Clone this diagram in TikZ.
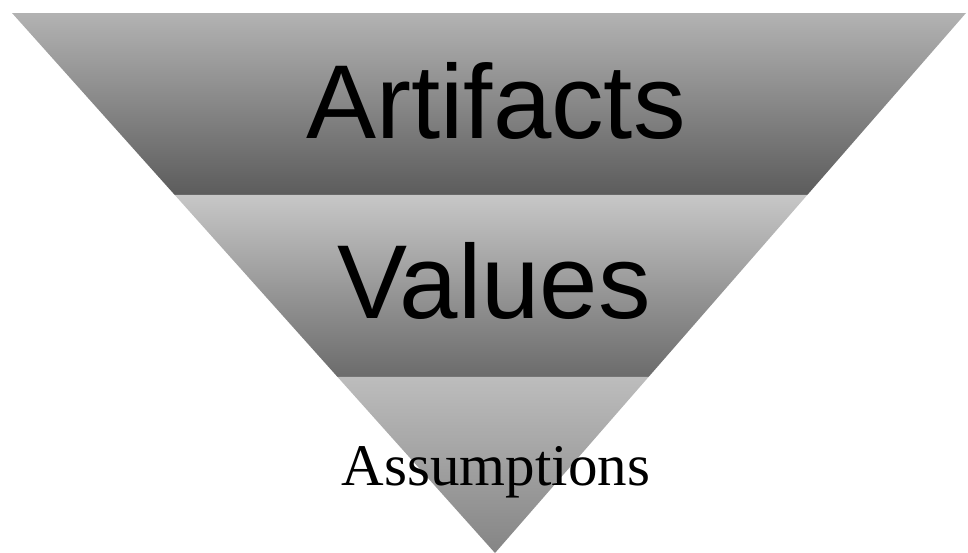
\documentclass[tikz,border=0pt]{standalone}
\usepackage{fontspec}
\newfontfamily\armfont{Liberation Sans}
\newfontfamily\capfont{Liberation Serif}
\usetikzlibrary{calc}

\begin{document}
\begin{tikzpicture}[x=1pt, y=-1pt,
    bigword/.style={anchor=base, inner sep=0pt, text=black, font=\armfont\fontsize{105}{110}\selectfont},
    smallword/.style={anchor=base, inner sep=0pt, text=black, font=\capfont\fontsize{59}{63}\selectfont}]
        \useasboundingbox (0,0) rectangle (968,552);

        % --- Tam giac nguoc ---
        \coordinate (topL) at (12,13);
        \coordinate (topR) at (966,13);
        \coordinate (apex) at (495,553);

        % --- Ranh gioi cac tang ---
        \coordinate (midL) at ($(topL)!0.337!(apex)$);
        \coordinate (midR) at ($(topR)!0.337!(apex)$);
        \coordinate (lowL) at ($(topL)!0.674!(apex)$);
        \coordinate (lowR) at ($(topR)!0.674!(apex)$);

        % --- To mau tung tang ---
        \shade[top color=black!30, bottom color=black!64] (topL) -- (topR) -- (midR) -- (midL) -- cycle;
        \shade[top color=black!22, bottom color=black!58] (midL) -- (midR) -- (lowR) -- (lowL) -- cycle;
        \shade[top color=black!26, bottom color=black!48] (lowL) -- (lowR) -- (apex) -- cycle;

        % --- Chu ---
        \node[bigword] (artifacts) at (496,138) {Artifacts};
        \node[bigword] (values) at (494,318) {Values};
        \node[smallword] (assumptions) at (496,485) {Assumptions};
    \end{tikzpicture}
\end{document}
